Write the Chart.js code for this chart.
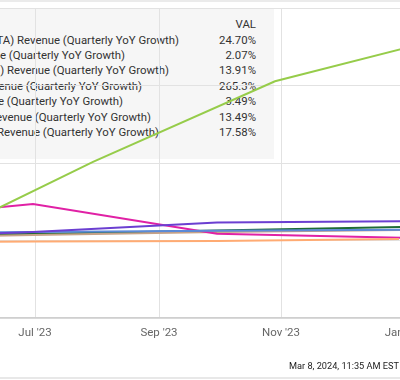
<!DOCTYPE html>
<html><head><meta charset="utf-8">
<script src="https://cdn.jsdelivr.net/npm/chart.js@4/dist/chart.umd.min.js"></script>
<style>
html,body{margin:0;padding:0;width:400px;height:380px;overflow:hidden;background:#fff;font-family:Roboto,"Noto Sans",sans-serif;}
#wrap{position:relative;width:400px;height:380px;overflow:hidden;}
#topband{position:absolute;left:0;top:0;width:400px;height:2px;background:#ebebeb;}
#legbox{position:absolute;left:-300px;top:9px;width:574px;height:150px;background:#f6f6f6;}
.lg{position:absolute;white-space:nowrap;font-size:11.4px;color:#333;line-height:15px;}
#c{position:absolute;left:-100px;top:0;}
#stamp{position:absolute;right:1px;top:360px;font-size:9.2px;line-height:12px;color:#222;white-space:nowrap;}
#botline{position:absolute;left:0;top:377px;width:400px;height:2px;background:#e8e8e8;}
</style>
</head><body>
<div id="wrap">
  <div id="topband"></div>
  <div id="legbox"></div>
  <div id="legend"></div>
  <canvas id="c" width="600" height="380"></canvas>
  <div id="stamp">Mar 8, 2024, 11:35 AM EST</div>
  <div id="botline"></div>
</div>
<script>
// ---- data ----
const seriesNames = [
  "Meta Platforms Inc (META) Revenue (Quarterly YoY Growth)",
  "Apple Inc (AAPL) Revenue (Quarterly YoY Growth)",
  "Amazon.com Inc (AMZN) Revenue (Quarterly YoY Growth)",
  "NVIDIA Corp (NVDA) Revenue (Quarterly YoY Growth)",
  "Tesla Inc (TSLA) Revenue (Quarterly YoY Growth)",
  "Alphabet Inc (GOOGL) Revenue (Quarterly YoY Growth)",
  "Microsoft Corp (MSFT) Revenue (Quarterly YoY Growth)"
];
const calQuarterDates = ["2023-03-31", "2023-06-30", "2023-09-30", "2023-12-31"];
const aaplDates = ["2023-04-01", "2023-07-01", "2023-09-30", "2023-12-30"];
const nvdaDates = ["2023-04-30", "2023-07-30", "2023-10-29", "2024-01-28"];

const metaVals  = [2.64, 11.03, 23.21, 24.70];
const aaplVals  = [-2.51, -1.40, -0.72, 2.07];
const amznVals  = [9.37, 10.85, 12.57, 13.91];
const nvdaVals  = [-13.22, 101.5, 205.5, 265.3];
const tslaVals  = [24.36, 47.20, 8.84, 3.49];
const googlVals = [2.61, 7.10, 11.01, 13.49];
const msftVals  = [7.08, 8.33, 12.76, 17.58];

const tickDates  = ["2023-07-01", "2023-09-01", "2023-11-01", "2024-01-01"];
const tickLabels = ["Jul '23", "Sep '23", "Nov '23", "Jan '24"];
const yTicks = [-100, 0, 100, 200, 300];

// ---- styles / layout ----
const colors = ["#6b3fd1", "#ffab73", "#5b8ad8", "#96cc4a", "#e021a5", "#c6a287", "#1f6b35"];
const legendRowEnds = [179, 125, 169, 142, 123, 151, 159];

const DAY0 = Date.UTC(2023, 6, 1);
const toDay = s => (Date.parse(s + "T00:00:00Z") - DAY0) / 86400000;

const seriesDates = [calQuarterDates, aaplDates, calQuarterDates, nvdaDates, calQuarterDates, calQuarterDates, calQuarterDates];
const seriesVals = [metaVals, aaplVals, amznVals, nvdaVals, tslaVals, googlVals, msftVals];

// legend (HTML, behind canvas)
const leg = document.getElementById('legend');
const fmt = v => (Math.abs(v) >= 100 ? v.toFixed(1) : v.toFixed(2)) + "%";
function addDiv(text, style) {
  const d = document.createElement('div');
  d.className = 'lg'; d.textContent = text; Object.assign(d.style, style); leg.appendChild(d);
  return d;
}
addDiv("VAL", {right: "144px", top: (24.5 - 7.5) + "px"});
seriesNames.forEach((n, i) => {
  const cy = 40 + i * 15.4;
  addDiv(n, {right: (400 - legendRowEnds[i]) + "px", top: (cy - 7.5) + "px"});
  const vals = seriesVals[i];
  addDiv(fmt(vals[vals.length - 1]), {right: "144px", top: (cy - 7.5) + "px"});
});

const tickDays = tickDates.map(toDay);

new Chart(document.getElementById('c'), {
  type: 'line',
  data: {
    datasets: seriesNames.map((n, i) => ({
      label: n,
      data: seriesDates[i].map((d, j) => ({x: toDay(d), y: seriesVals[i][j]})),
      borderColor: colors[i],
      borderWidth: 2,
      pointRadius: 0,
      tension: 0,
      fill: false
    }))
  },
  options: {
    responsive: false,
    animation: false,
    events: [],
    layout: {padding: {top: 8, left: 0, right: 0, bottom: 0}},
    plugins: {legend: {display: false}, tooltip: {enabled: false}},
    scales: {
      x: {
        type: 'linear', min: -67.5, max: 232.5,
        afterBuildTicks: sc => { sc.ticks = tickDays.map(v => ({value: v})); },
        ticks: {
          callback: (v) => { const k = tickDays.indexOf(v); return k >= 0 ? tickLabels[k] : ''; },
          font: {family: 'Roboto', size: 11.5}, color: '#666', padding: 8,
          maxRotation: 0, autoSkip: false
        },
        grid: {color: '#e2e2e2', lineWidth: 1, drawTicks: false},
        border: {color: '#cfcfcf', width: 1.5},
        afterFit: sc => { sc.height = 62; }
      },
      y: {
        min: -100, max: 300,
        afterBuildTicks: sc => { sc.ticks = yTicks.map(v => ({value: v})); },
        ticks: {display: false},
        grid: {color: '#e2e2e2', lineWidth: 1, drawTicks: false},
        border: {display: false},
        afterFit: sc => { sc.width = 0; }
      }
    }
  }
});
</script>
</body></html>
